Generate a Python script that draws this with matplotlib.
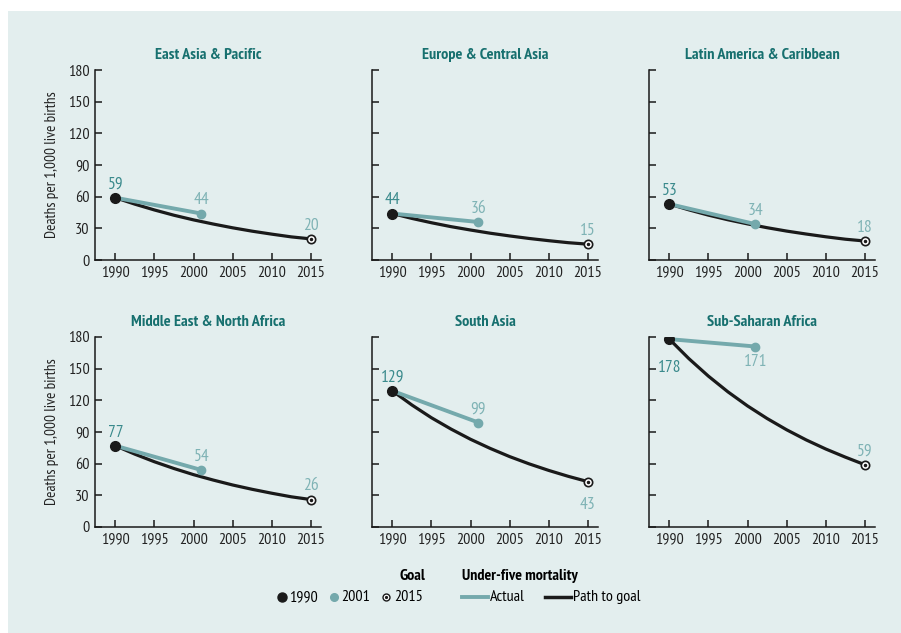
import matplotlib
matplotlib.use('Agg')
import matplotlib.pyplot as plt
from matplotlib.lines import Line2D
from matplotlib.patches import Rectangle

plt.rcParams['font.family'] = ['PT Sans Narrow', 'DejaVu Sans']

regions = ['East Asia & Pacific', 'Europe & Central Asia', 'Latin America & Caribbean',
           'Middle East & North Africa', 'South Asia', 'Sub-Saharan Africa']
rate_1990 = [59, 44, 53, 77, 129, 178]
rate_2001 = [44, 36, 34, 54, 99, 171]
goal_2015 = [20, 15, 18, 26, 43, 59]

# path to goal, read every two and a half years from 1990 to 2015
path_years = [1990, 1992.5, 1995, 1997.5, 2000, 2002.5, 2005, 2007.5, 2010, 2012.5, 2015]
path_values = [
    [59, 52.9, 47.4, 42.4, 38, 34.1, 30.5, 27.3, 24.5, 21.9, 20],
    [44, 39.4, 35.3, 31.6, 28.4, 25.4, 22.8, 20.4, 18.3, 16.4, 15],
    [53, 47.5, 42.5, 38.1, 34.2, 30.6, 27.4, 24.6, 22, 19.7, 18],
    [77, 69, 61.8, 55.4, 49.6, 44.5, 39.8, 35.7, 32, 28.6, 26],
    [129, 115.6, 103.5, 92.8, 83.1, 74.5, 66.7, 59.8, 53.6, 48, 43],
    [178, 159.5, 142.9, 128, 114.7, 102.8, 92.1, 82.5, 73.9, 66.2, 59],
]
x_ticks = [1990, 1995, 2000, 2005, 2010, 2015]
y_ticks = [0, 30, 60, 90, 120, 150, 180]

BG = '#e3eeee'
TEAL = '#74a9ac'
TEAL_LABEL = '#7fb3b5'
TEAL_DARK = '#3a8a8c'
TITLE = '#17706f'
INK = '#1a1a1a'

W, H = 901, 633
fig = plt.figure(figsize=(W / 100, H / 100), dpi=100, facecolor='white')
fig.add_artist(Rectangle((8 / W, 0), 1, 1 - 11 / H, transform=fig.transFigure,
                         facecolor=BG, edgecolor='none', zorder=-10))

lefts = [95, 372, 649]
bottoms = [260, 527]
ax_w, ax_h = 226, 190

# label offsets (points) for the 1990 / 2001 / 2015 values
label_offsets = {i: [(0, 9.5), (0, 9.5), (0, 9.5)] for i in range(6)}
label_offsets[4] = [(0, 9.5), (0, 9.5), (0, -16.5)]
label_offsets[5] = [(0, -21), (0, -11.5), (0, 9.5)]

for i, name in enumerate(regions):
    row, col = divmod(i, 3)
    ax = fig.add_axes([lefts[col] / W, 1 - bottoms[row] / H, ax_w / W, ax_h / H])
    ax.set_facecolor('none')
    ax.set_xlim(1987.4, 2016.3)
    ax.set_ylim(0, 180)
    for s in ['top', 'right']:
        ax.spines[s].set_visible(False)
    for s in ['left', 'bottom']:
        ax.spines[s].set_linewidth(1.1)
        ax.spines[s].set_color(INK)
    ax.set_xticks(x_ticks)
    ax.set_yticks(y_ticks)
    ax.tick_params(direction='in', length=5, width=1.1, color=INK, labelsize=11.5,
                   labelcolor='#222222', pad=4)
    if col == 0:
        ax.set_ylabel('Deaths per 1,000 live births', fontsize=11, labelpad=6,
                      color='#222222')
    else:
        ax.set_yticklabels([])
    ax.set_title(name, fontsize=11.7, fontweight='bold', color=TITLE, pad=8)

    ax.plot(path_years, path_values[i], color=INK, lw=2.3,
            solid_joinstyle='round', solid_capstyle='round', zorder=2)
    ax.plot([1990, 2001], [rate_1990[i], rate_2001[i]], color=TEAL, lw=2.8, zorder=3)
    ax.plot(1990, rate_1990[i], marker='o', ms=7, color=INK, zorder=5)
    ax.plot(2001, rate_2001[i], marker='o', ms=6, color=TEAL, zorder=5)
    ax.plot(2015, goal_2015[i], marker='o', ms=6, mfc='white', mec=INK,
            mew=1.2, zorder=5)
    ax.plot(2015, goal_2015[i], marker='o', ms=1.5, color=INK, zorder=6)

    offs = label_offsets[i]
    for (xv, yv, c), off in zip([(1990, rate_1990[i], TEAL_DARK),
                                 (2001, rate_2001[i], TEAL_LABEL),
                                 (2015, goal_2015[i], TEAL_LABEL)], offs):
        ax.annotate(str(yv), (xv, yv), xytext=off, textcoords='offset points',
                    ha='center', va='center', fontsize=12.5, color=c)

# legend drawn in figure coordinates
def fx(px):
    return px / W

def fy(py):
    return 1 - py / H

ly = 597
fig.add_artist(Line2D([fx(282)], [fy(ly)], marker='o', ms=6.5, color=INK,
                      transform=fig.transFigure))
fig.text(fx(289), fy(ly), '1990', fontsize=11.5, va='center')
fig.add_artist(Line2D([fx(334)], [fy(ly)], marker='o', ms=5.5, color=TEAL,
                      transform=fig.transFigure))
fig.text(fx(341), fy(ly), '2001', fontsize=11.5, va='center')
fig.add_artist(Line2D([fx(386)], [fy(ly)], marker='o', ms=5, mfc='white',
                      mec=INK, mew=1, transform=fig.transFigure))
fig.add_artist(Line2D([fx(386)], [fy(ly)], marker='o', ms=1.3, color=INK,
                      transform=fig.transFigure))
fig.text(fx(394), fy(ly), '2015', fontsize=11.5, va='center')
fig.text(fx(425), fy(576), 'Goal', fontsize=11.5, fontweight='bold', va='center', ha='right')

fig.add_artist(Line2D([fx(462), fx(488)], [fy(ly), fy(ly)], lw=2.8, color=TEAL,
                      transform=fig.transFigure))
fig.text(fx(490), fy(ly), 'Actual', fontsize=11.5, va='center')
fig.add_artist(Line2D([fx(545), fx(571)], [fy(ly), fy(ly)], lw=2.5, color=INK,
                      transform=fig.transFigure))
fig.text(fx(573), fy(ly), 'Path to goal', fontsize=11.5, va='center')
fig.text(fx(462), fy(576), 'Under-five mortality', fontsize=11.5, fontweight='bold',
         va='center')

fig.savefig('out.png', dpi=100, facecolor=fig.get_facecolor())
